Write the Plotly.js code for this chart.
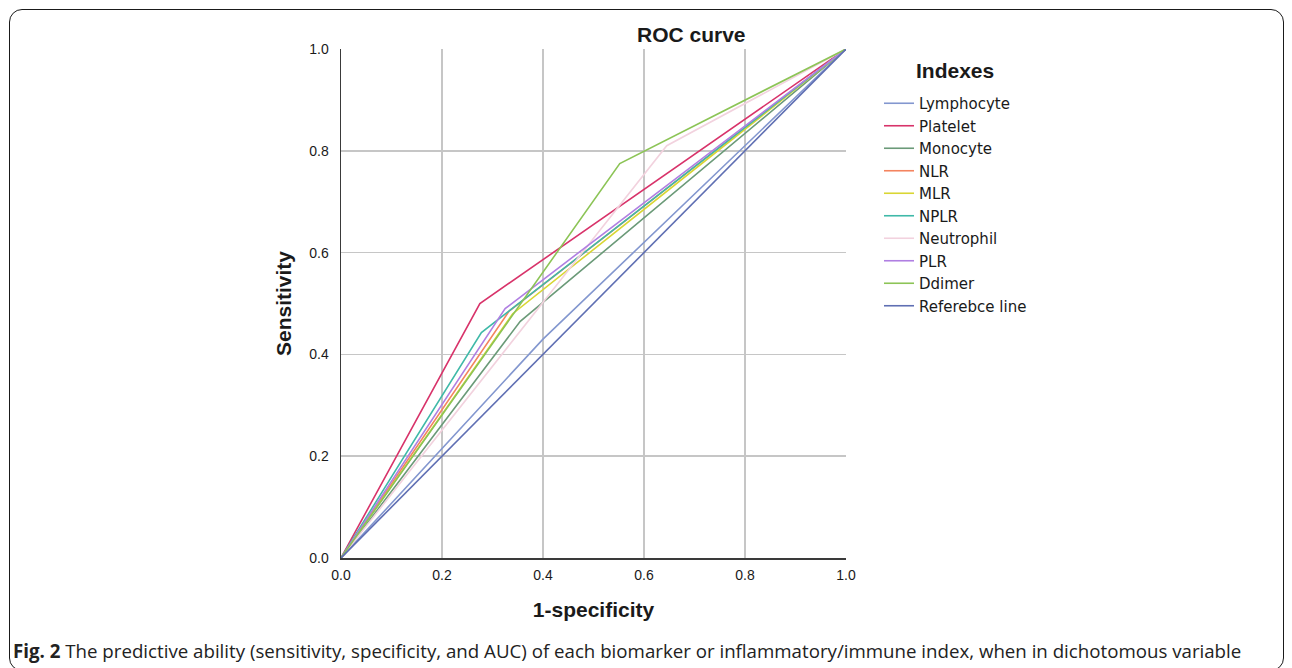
<!DOCTYPE html>
<html>
<head>
<meta charset="utf-8">
<script src="https://cdn.plot.ly/plotly-3.0.1.min.js"></script>
<style>
  html, body { margin: 0; padding: 0; background: #ffffff; }
  #frame { position: absolute; left: 9px; top: 9px; width: 1273px; height: 660px;
           border: 1.5px solid #1a1a1a; border-radius: 13px; pointer-events: none; z-index: 5; }
  #chart { position: absolute; left: 0; top: 0; width: 1292px; height: 668px; }
</style>
</head>
<body>
<div id="chart"></div>
<div id="frame"></div>
<script>
// ---- data (1-specificity, sensitivity) ----
const seriesNames = ['Lymphocyte', 'Platelet', 'Monocyte', 'NLR', 'MLR', 'NPLR',
                     'Neutrophil', 'PLR', 'Ddimer', 'Referebce line'];
const lymphocyteFpr = [0, 0.40, 1];   const lymphocyteTpr = [0, 0.43, 1];
const plateletFpr   = [0, 0.275, 1];  const plateletTpr   = [0, 0.50, 1];
const monocyteFpr   = [0, 0.355, 1];  const monocyteTpr   = [0, 0.465, 1];
const nlrFpr        = [0, 0.333, 1];  const nlrTpr        = [0, 0.485, 1];
const mlrFpr        = [0, 0.34, 1];   const mlrTpr        = [0, 0.48, 1];
const nplrFpr       = [0, 0.278, 1];  const nplrTpr       = [0, 0.443, 1];
const neutrophilFpr = [0, 0.645, 1];  const neutrophilTpr = [0, 0.81, 1];
const plrFpr        = [0, 0.325, 1];  const plrTpr        = [0, 0.49, 1];
const ddimerFpr     = [0, 0.552, 1];  const ddimerTpr     = [0, 0.775, 1];
const referenceFpr  = [0, 1];         const referenceTpr  = [0, 1];
const axisTicks = [0, 0.2, 0.4, 0.6, 0.8, 1.0];
const axisTickText = ['0.0', '0.2', '0.4', '0.6', '0.8', '1.0'];

// ---- styles ----
const seriesColors = ['#8397cf', '#d8336a', '#6b9a78', '#f4845f', '#d9d633', '#3fb9a8',
                      '#f2d2de', '#b07fe2', '#8cc456', '#5f6fb3'];

const xs = [lymphocyteFpr, plateletFpr, monocyteFpr, nlrFpr, mlrFpr, nplrFpr,
            neutrophilFpr, plrFpr, ddimerFpr, referenceFpr];
const ys = [lymphocyteTpr, plateletTpr, monocyteTpr, nlrTpr, mlrTpr, nplrTpr,
            neutrophilTpr, plrTpr, ddimerTpr, referenceTpr];

const traces = seriesNames.map((n, i) => ({
  type: 'scatter', mode: 'lines', name: n, x: xs[i], y: ys[i],
  line: { color: seriesColors[i], width: 1.6 }, hoverinfo: 'x+y+name'
}));

const L = 341, R = 846, T = 49, B = 558, W = 1292, H = 668;
const px = v => (v - L) / (R - L);
const py = v => (B - v) / (B - T);

const layout = {
  width: W, height: H,
  margin: { l: L, r: W - R, t: T, b: H - B, pad: 0 },
  paper_bgcolor: '#ffffff', plot_bgcolor: '#ffffff',
  font: { family: 'Liberation Sans, Arial, sans-serif', color: '#1a1a1a' },
  showlegend: true,
  legend: {
    x: px(879), xanchor: 'left', y: py(87), yanchor: 'top',
    font: { family: 'DejaVu Sans, sans-serif', size: 15, color: '#1a1a1a' },
    bgcolor: 'rgba(0,0,0,0)', borderwidth: 0, itemwidth: 30, tracegroupgap: 0
  },
  xaxis: {
    range: [0, 1], tickvals: axisTicks, ticktext: axisTickText,
    showgrid: true, gridcolor: '#c6c6c6', gridwidth: 1.5,
    showline: true, linecolor: '#3a3a3a', linewidth: 1.5, zeroline: false,
    ticks: 'outside', ticklen: 4, tickcolor: 'rgba(0,0,0,0)',
    tickfont: { size: 14, color: '#1a1a1a' },
    title: { text: '<b>1-specificity</b>', standoff: 20, font: { size: 21, color: '#1a1a1a' } },
    fixedrange: true
  },
  yaxis: {
    range: [0, 1], tickvals: axisTicks, ticktext: axisTickText,
    showgrid: true, gridcolor: '#c6c6c6', gridwidth: 1.5,
    showline: true, linecolor: '#3a3a3a', linewidth: 1.5, zeroline: false,
    ticks: 'outside', ticklen: 8, tickcolor: 'rgba(0,0,0,0)',
    tickfont: { size: 14, color: '#1a1a1a' },
    title: { text: '<b>Sensitivity</b>', standoff: 12, font: { size: 21, color: '#1a1a1a' } },
    fixedrange: true
  },
  annotations: [
    { text: '<b>ROC curve</b>', xref: 'paper', yref: 'paper', x: px(691), y: py(35),
      xanchor: 'center', yanchor: 'middle', showarrow: false,
      font: { size: 21, color: '#1a1a1a' } },
    { text: '<b>Indexes</b>', xref: 'paper', yref: 'paper', x: px(914), y: py(70),
      xanchor: 'left', yanchor: 'middle', showarrow: false,
      font: { size: 21, color: '#1a1a1a' } },
    { text: '<b>Fig. 2</b> The predictive ability (sensitivity, specificity, and AUC) of each biomarker or inflammatory/immune index, when in dichotomous variable',
      xref: 'paper', yref: 'paper', x: px(11), y: py(650), xanchor: 'left', yanchor: 'middle',
      showarrow: false, font: { family: 'Open Sans, sans-serif', size: 18.7, color: '#222222' } }
  ]
};

Plotly.newPlot('chart', traces, layout, { displayModeBar: false, staticPlot: true });
</script>
</body>
</html>
